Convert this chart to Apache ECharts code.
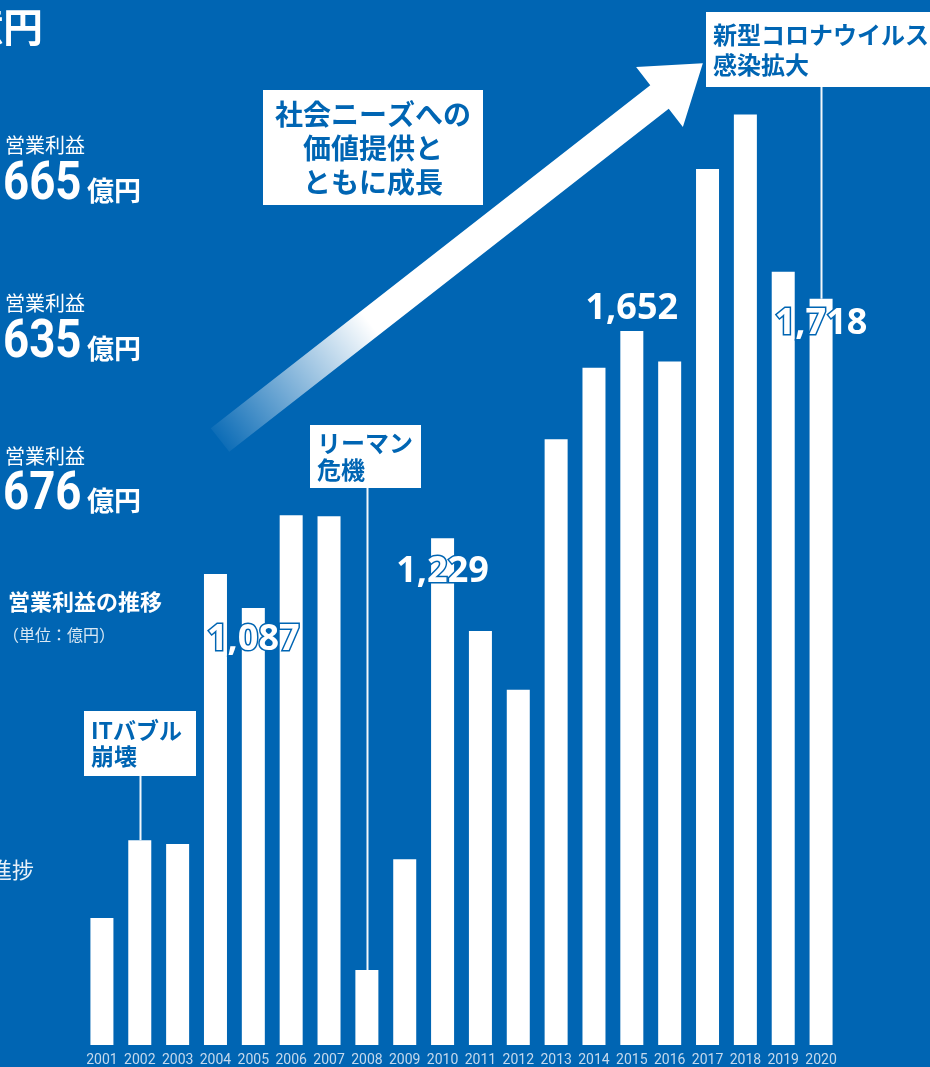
<!DOCTYPE html>
<html>
<head>
<meta charset="utf-8">
<script src="https://cdn.jsdelivr.net/npm/echarts@6/dist/echarts.min.js"></script>
<style>
html,body{margin:0;padding:0;background:#0065b3;}
#chart{width:930px;height:1067px;}
</style>
</head>
<body>
<div id="chart"></div>
<script>
// ---- data ----
const years = ['2001','2002','2003','2004','2005','2006','2007','2008','2009','2010',
               '2011','2012','2013','2014','2015','2016','2017','2018','2019','2020'];
const profits = [454, 613, 605, 1156, 1087, 1276, 1274, 348, 574, 1229,
                 1040, 920, 1431, 1577, 1652, 1590, 1983, 2094, 1773, 1718];
const labeledYears = ['2005', '2010', '2015', '2020'];
const eventYears = ['2002', '2008', '2020'];
const eventTexts = ['ITバブル\n崩壊', 'リーマン\n危機', '新型コロナウイルス\n感染拡大'];
const sideValues = ['665', '635', '676'];
const sideCaption = '営業利益';
const unitText = '億円';
const chartTitle = '営業利益の推移';
const chartUnit = '（単位：億円）';
const arrowText = '社会ニーズへの\n価値提供と\nともに成長';

// ---- style ----
const BLUE = '#0065b3';
const CJK = "'Noto Sans CJK JP', 'Noto Sans', sans-serif";
const NUM = "'Roboto', 'Liberation Sans', sans-serif";
const labelOffsets = { '2005': 32, '2010': 33, '2015': -22, '2020': 25 };

const chart = echarts.init(document.getElementById('chart'));

function fmt(v) { return v.toLocaleString('en-US'); }

const barData = profits.map(function (v, i) {
  const y = years[i];
  if (labeledYears.indexOf(y) >= 0) {
    return {
      value: v,
      label: {
        show: true,
        position: ['50%', labelOffsets[y]],
        align: 'center',
        verticalAlign: 'middle',
        formatter: function (p) { return fmt(p.value); },
        color: '#ffffff',
        textBorderColor: BLUE,
        textBorderWidth: 3,
        fontSize: 36,
        fontWeight: 'bold',
        fontFamily: "'Open Sans', 'Noto Sans', sans-serif"
      }
    };
  }
  return { value: v };
});

// left column texts
const sideGraphics = [];
sideGraphics.push({
  type: 'text', z: 50,
  style: { text: unitText, x: 43, y: 27, fill: '#fff', font: 'bold 40px ' + CJK,
           align: 'right', verticalAlign: 'middle' }
});
const captionY = [145, 303, 456];
const valueMid = [186, 344, 496];
sideValues.forEach(function (v, i) {
  sideGraphics.push({
    type: 'text', z: 50,
    style: { text: sideCaption, x: 5, y: captionY[i], fill: '#fff', font: '20px ' + CJK,
             align: 'left', verticalAlign: 'middle' }
  });
  sideGraphics.push({
    type: 'text', z: 50, x: 3, y: valueMid[i], scaleX: 0.86,
    style: { text: v, x: 0, y: 0, fill: '#fff', font: 'bold 53px ' + NUM,
             align: 'left', verticalAlign: 'middle' }
  });
  sideGraphics.push({
    type: 'text', z: 50,
    style: { text: unitText, x: 87, y: valueMid[i] + 5, fill: '#fff', font: 'bold 27px ' + CJK,
             align: 'left', verticalAlign: 'middle' }
  });
});
sideGraphics.push({
  type: 'text', z: 50,
  style: { text: chartTitle, x: 8, y: 602, fill: '#fff', font: 'bold 22px ' + CJK,
           align: 'left', verticalAlign: 'middle' }
});
sideGraphics.push({
  type: 'text', z: 50,
  style: { text: chartUnit, x: 3, y: 635, fill: 'rgba(255,255,255,0.85)', font: '16px ' + CJK,
           align: 'left', verticalAlign: 'middle' }
});
sideGraphics.push({
  type: 'text', z: 50,
  style: { text: '進捗', x: 34, y: 870, fill: 'rgba(255,255,255,0.9)', font: '22px ' + CJK,
           align: 'right', verticalAlign: 'middle' }
});

// arrow
(function () {
  const S = [220, 440], B = [659.5, 97];
  const dx = B[0] - S[0], dy = B[1] - S[1];
  const len = Math.sqrt(dx * dx + dy * dy);
  const u = [dx / len, dy / len];
  const n = [-u[1], u[0]];
  const w = 15, W = 38, L = 55;
  const T = [B[0] + L * u[0], B[1] + L * u[1]];
  const pts = [
    [S[0] + w * n[0], S[1] + w * n[1]],
    [B[0] + w * n[0], B[1] + w * n[1]],
    [B[0] + W * n[0], B[1] + W * n[1]],
    T,
    [B[0] - W * n[0], B[1] - W * n[1]],
    [B[0] - w * n[0], B[1] - w * n[1]],
    [S[0] - w * n[0], S[1] - w * n[1]]
  ];
  const G = [S[0] + 190 * u[0], S[1] + 190 * u[1]];
  sideGraphics.push({
    type: 'polygon', z: 40,
    shape: { points: pts },
    style: {
      fill: new echarts.graphic.LinearGradient(S[0], S[1], G[0], G[1], [
        { offset: 0, color: 'rgba(255,255,255,0.05)' },
        { offset: 1, color: 'rgba(255,255,255,1)' }
      ], true)
    }
  });
})();

// arrow caption box
sideGraphics.push({
  type: 'rect', z: 45,
  shape: { x: 263, y: 90, width: 220, height: 115 },
  style: { fill: '#fff' }
});
sideGraphics.push({
  type: 'text', z: 46,
  style: { text: arrowText, x: 373, y: 148, fill: BLUE, font: 'bold 28px ' + CJK,
           lineHeight: 34, align: 'center', verticalAlign: 'middle' }
});

// event boxes (pixel positions of the annotation boxes)
const eventBoxes = [
  { x: 84, y: 711, w: 112, h: 65, tx: 91, lh: 26, fs: 23 },
  { x: 310, y: 425, w: 111, h: 63, tx: 317, lh: 27, fs: 24 },
  { x: 706, y: 12, w: 240, h: 75, tx: 713, lh: 30, fs: 24 }
];
eventBoxes.forEach(function (b, i) {
  sideGraphics.push({
    type: 'rect', z: 45,
    shape: { x: b.x, y: b.y, width: b.w, height: b.h },
    style: { fill: '#fff' }
  });
  sideGraphics.push({
    type: 'text', z: 46,
    style: { text: eventTexts[i], x: b.tx, y: b.y + b.h / 2, fill: BLUE,
             font: 'bold ' + b.fs + 'px ' + CJK, lineHeight: b.lh,
             align: 'left', verticalAlign: 'middle' }
  });
});

const option = {
  backgroundColor: BLUE,
  animation: false,
  grid: { left: 83, right: 90, top: 65, bottom: 20 },
  xAxis: {
    type: 'category',
    data: years,
    axisLine: { show: false },
    axisTick: { show: false },
    axisLabel: {
      interval: 0, margin: 8, color: '#c5d9ec',
      fontFamily: NUM, fontSize: 14
    }
  },
  yAxis: { type: 'value', min: 195, max: 2195, show: false, splitLine: { show: false } },
  series: [{
    type: 'bar',
    data: barData,
    barWidth: 23,
    itemStyle: { color: '#ffffff' },
    label: { show: false },
    z: 10
  }],
  graphic: { elements: sideGraphics }
};
chart.setOption(option);

// connector lines from event boxes down to bar tops (via axis scales)
const lineEls = eventYears.map(function (y, i) {
  const idx = years.indexOf(y);
  const p = chart.convertToPixel({ xAxisIndex: 0, yAxisIndex: 0 }, [y, profits[idx]]);
  const b = eventBoxes[i];
  return {
    type: 'line', z: 44,
    shape: { x1: Math.round(p[0]) + 0.5, y1: b.y + b.h, x2: Math.round(p[0]) + 0.5, y2: p[1] },
    style: { stroke: 'rgba(255,255,255,0.95)', lineWidth: 2 }
  };
});
chart.setOption({ graphic: { elements: sideGraphics.concat(lineEls) } });
</script>
</body>
</html>
